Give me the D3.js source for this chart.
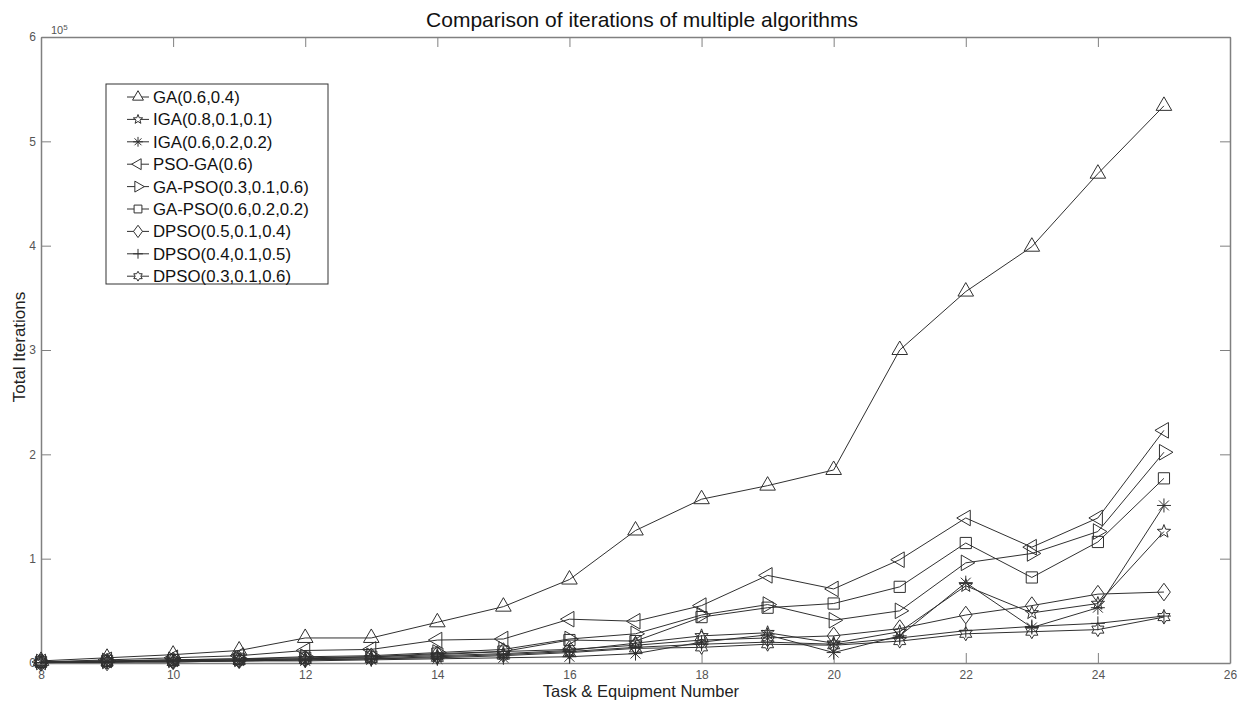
<!DOCTYPE html>
<html>
<head>
<meta charset="utf-8">
<script src="https://cdn.jsdelivr.net/npm/d3@7"></script>
<style>
  body { margin: 0; background: #fff; }
  svg { font-family: "Liberation Sans", Arial, sans-serif; }
</style>
</head>
<body>
<div id="chart"></div>
<script>
// Task & equipment numbers on the x axis
const taskNumbers = [8, 9, 10, 11, 12, 13, 14, 15, 16, 17, 18, 19, 20, 21, 22, 23, 24, 25]

// Total iterations (units of 1e5)
const gaValues       = [0.02, 0.05, 0.08, 0.12, 0.24, 0.24, 0.39, 0.54, 0.80, 1.27, 1.57, 1.70, 1.85, 3.00, 3.56, 3.99, 4.69, 5.34]
const iga811Values   = [0.005, 0.01, 0.02, 0.03, 0.04, 0.05, 0.07, 0.09, 0.12, 0.19, 0.26, 0.29, 0.19, 0.30, 0.74, 0.48, 0.57, 1.26]
const iga622Values   = [0.003, 0.01, 0.01, 0.02, 0.02, 0.03, 0.04, 0.05, 0.06, 0.09, 0.20, 0.27, 0.10, 0.26, 0.77, 0.34, 0.53, 1.51]
const psoGaValues    = [0.01, 0.03, 0.05, 0.07, 0.12, 0.13, 0.22, 0.23, 0.42, 0.40, 0.55, 0.84, 0.71, 0.99, 1.39, 1.11, 1.39, 2.23]
const gaPso316Values = [0.01, 0.02, 0.03, 0.04, 0.06, 0.07, 0.10, 0.13, 0.23, 0.28, 0.46, 0.56, 0.41, 0.50, 0.96, 1.05, 1.26, 2.02]
const gaPso622Values = [0.01, 0.02, 0.03, 0.04, 0.05, 0.06, 0.09, 0.11, 0.22, 0.21, 0.44, 0.53, 0.57, 0.73, 1.15, 0.82, 1.16, 1.77]
const dpso514Values  = [0.005, 0.01, 0.02, 0.03, 0.04, 0.06, 0.08, 0.11, 0.13, 0.17, 0.22, 0.24, 0.26, 0.33, 0.46, 0.55, 0.66, 0.68]
const dpso415Values  = [0.004, 0.01, 0.02, 0.02, 0.03, 0.04, 0.06, 0.08, 0.11, 0.15, 0.18, 0.20, 0.18, 0.24, 0.31, 0.35, 0.38, 0.45]
const dpso316Values  = [0.003, 0.01, 0.01, 0.02, 0.03, 0.04, 0.05, 0.07, 0.10, 0.14, 0.15, 0.18, 0.17, 0.21, 0.28, 0.30, 0.32, 0.44]

const seriesNames = ["GA(0.6,0.4)", "IGA(0.8,0.1,0.1)", "IGA(0.6,0.2,0.2)", "PSO-GA(0.6)", "GA-PSO(0.3,0.1,0.6)",
  "GA-PSO(0.6,0.2,0.2)", "DPSO(0.5,0.1,0.4)", "DPSO(0.4,0.1,0.5)", "DPSO(0.3,0.1,0.6)"]
const seriesMarkers = ["triUp", "star", "asterisk", "triLeft", "triRight", "square", "diamond", "plus", "hexagram"]
const seriesValues = [gaValues, iga811Values, iga622Values, psoGaValues, gaPso316Values,
  gaPso622Values, dpso514Values, dpso415Values, dpso316Values]

const xTicks = [8, 10, 12, 14, 16, 18, 20, 22, 24, 26]
const yTicks = [0, 1, 2, 3, 4, 5, 6]

const width = 1241
const height = 702
const plot = {left: 41, right: 1230, top: 37, bottom: 663}
const axisGrey = "#808080"
const lineColour = "#303030"

// Marker path for a given kind and radius
const markerPath = (kind, r) => {
  const p = d3.path()
  if (kind === "triUp" || kind === "triLeft" || kind === "triRight") {
    const ang = kind === "triUp" ? -90 : (kind === "triLeft" ? 180 : 0)
    for (let i = 0; i < 3; i++) {
      const a = (ang + i * 120) * Math.PI / 180
      const x = r * Math.cos(a), y = r * Math.sin(a)
      i === 0 ? p.moveTo(x, y) : p.lineTo(x, y)
    }
    p.closePath()
  } else if (kind === "square") {
    const s = r * 0.8
    p.rect(-s, -s, 2 * s, 2 * s)
  } else if (kind === "diamond") {
    p.moveTo(0, -r * 1.1); p.lineTo(r * 0.8, 0); p.lineTo(0, r * 1.1); p.lineTo(-r * 0.8, 0); p.closePath()
  } else if (kind === "plus") {
    p.moveTo(-r, 0); p.lineTo(r, 0); p.moveTo(0, -r); p.lineTo(0, r)
  } else if (kind === "asterisk") {
    for (let i = 0; i < 4; i++) {
      const a = i * Math.PI / 4
      p.moveTo(-r * Math.cos(a), -r * Math.sin(a)); p.lineTo(r * Math.cos(a), r * Math.sin(a))
    }
  } else if (kind === "star") {
    for (let i = 0; i < 10; i++) {
      const rr = i % 2 === 0 ? r : r * 0.42
      const a = -Math.PI / 2 + i * Math.PI / 5
      i === 0 ? p.moveTo(rr * Math.cos(a), rr * Math.sin(a)) : p.lineTo(rr * Math.cos(a), rr * Math.sin(a))
    }
    p.closePath()
  } else if (kind === "hexagram") {
    for (let i = 0; i < 12; i++) {
      const rr = i % 2 === 0 ? r : r * 0.58
      const a = -Math.PI / 2 + i * Math.PI / 6
      i === 0 ? p.moveTo(rr * Math.cos(a), rr * Math.sin(a)) : p.lineTo(rr * Math.cos(a), rr * Math.sin(a))
    }
    p.closePath()
  }
  return p.toString()
}

const markerRadius = {triUp: 9, triLeft: 9, triRight: 9, square: 7, diamond: 8, plus: 7, asterisk: 7, star: 7, hexagram: 7}

const svg = d3.select("#chart").append("svg")
  .attr("width", width)
  .attr("height", height)

const xScale = d3.scaleLinear().domain([8, 26]).range([plot.left, plot.right])
const yScale = d3.scaleLinear().domain([0, 6e5]).range([plot.bottom, plot.top])

// Axes: ticks drawn inward on all four sides, like a MATLAB box
const styleAxis = (g) => {
  g.select(".domain").attr("stroke", axisGrey).attr("stroke-width", 1.5)
  g.selectAll(".tick line").attr("stroke", axisGrey)
  g.selectAll(".tick text").attr("fill", "#555").style("font-size", "12px").style("font-family", "Liberation Sans, Arial, sans-serif")
}

svg.append("g")
  .attr("transform", "translate(0," + plot.bottom + ")")
  .call(d3.axisBottom(xScale).tickValues(xTicks).tickSize(-10).tickPadding(5).tickSizeOuter(0))
  .call(styleAxis)
  .selectAll(".tick text").attr("dy", "0.9em")

svg.append("g")
  .attr("transform", "translate(0," + plot.top + ")")
  .call(d3.axisTop(xScale).tickValues(xTicks).tickSize(-10).tickFormat("").tickSizeOuter(0))
  .call(styleAxis)

svg.append("g")
  .attr("transform", "translate(" + plot.left + ",0)")
  .call(d3.axisLeft(yScale).tickValues(yTicks.map(d => d * 1e5)).tickSize(-10).tickPadding(5)
    .tickFormat(d => d / 1e5).tickSizeOuter(0))
  .call(styleAxis)

svg.append("g")
  .attr("transform", "translate(" + plot.right + ",0)")
  .call(d3.axisRight(yScale).tickValues(yTicks.map(d => d * 1e5)).tickSize(-10).tickFormat("").tickSizeOuter(0))
  .call(styleAxis)

// Exponent label
const expo = svg.append("text").attr("x", 51).attr("y", 34).attr("fill", "#555").style("font-size", "11px")
expo.append("tspan").text("10")
expo.append("tspan").attr("dy", -4).style("font-size", "8px").text("5")

// Lines and markers
const line = d3.line()
  .x((d, i) => xScale(taskNumbers[i]))
  .y(d => yScale(d * 1e5))

seriesValues.forEach((values, s) => {
  svg.append("path")
    .datum(values)
    .attr("d", line)
    .attr("fill", "none")
    .attr("stroke", lineColour)
    .attr("stroke-width", 1)

  svg.append("g").selectAll("path")
    .data(values)
    .join("path")
    .attr("transform", (d, i) => "translate(" + xScale(taskNumbers[i]) + "," + yScale(d * 1e5) + ")")
    .attr("d", markerPath(seriesMarkers[s], markerRadius[seriesMarkers[s]]))
    .attr("fill", "none")
    .attr("stroke", lineColour)
    .attr("stroke-width", 1)
})

// Title and axis labels
svg.append("text")
  .attr("x", 642).attr("y", 27)
  .attr("text-anchor", "middle")
  .style("font-size", "21px")
  .attr("fill", "#111")
  .text("Comparison of iterations of multiple algorithms")

svg.append("text")
  .attr("x", 641).attr("y", 697)
  .attr("text-anchor", "middle")
  .style("font-size", "16.5px")
  .attr("fill", "#222")
  .text("Task & Equipment Number")

svg.append("text")
  .attr("transform", "translate(25," + 347 + ") rotate(-90)")
  .attr("text-anchor", "middle")
  .style("font-size", "17px")
  .attr("fill", "#222")
  .text("Total Iterations")

// Legend
const legend = svg.append("g").attr("transform", "translate(106,84)")
legend.append("rect")
  .attr("width", 222).attr("height", 200)
  .attr("fill", "#fff").attr("stroke", "#333").attr("stroke-width", 1)

seriesNames.forEach((name, i) => {
  const row = legend.append("g").attr("transform", "translate(0," + (13 + i * 22.4) + ")")
  row.append("line").attr("x1", 21).attr("x2", 43).attr("y1", 0).attr("y2", 0)
    .attr("stroke", lineColour)
  row.append("path")
    .attr("transform", "translate(32,0)")
    .attr("d", markerPath(seriesMarkers[i], markerRadius[seriesMarkers[i]] * 0.7))
    .attr("fill", "#fff").attr("stroke", lineColour)
  row.append("text")
    .attr("x", 47).attr("y", 6)
    .style("font-size", "16.8px")
    .attr("fill", "#111")
    .text(name)
})
</script>
</body>
</html>
